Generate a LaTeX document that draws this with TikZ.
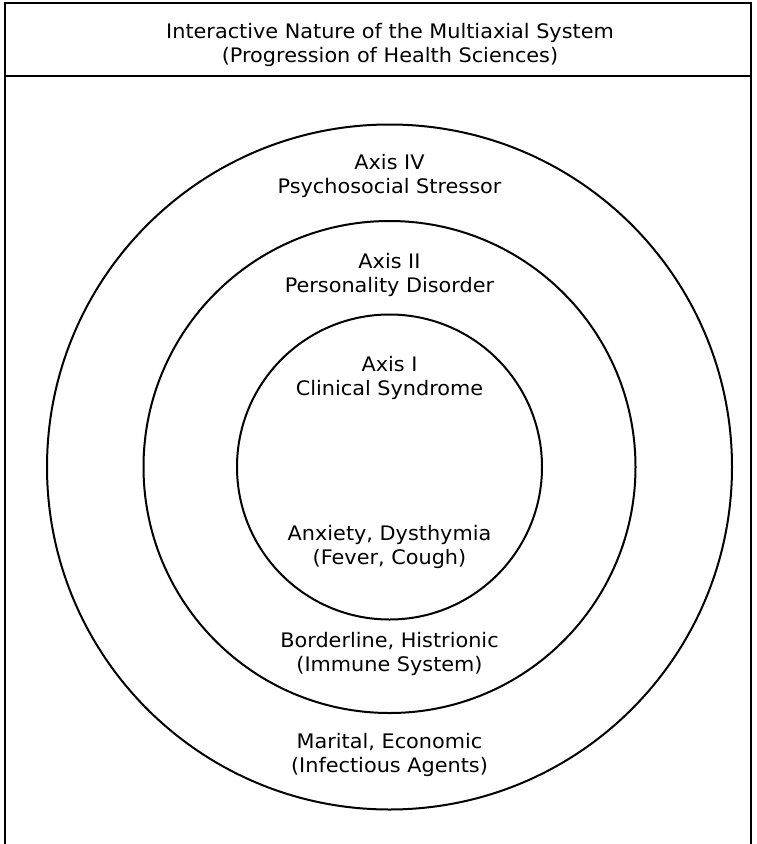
\documentclass[tikz,border=0pt]{standalone}
\usepackage{fontspec}
\setmainfont{DejaVu Sans}[FakeStretch=1.04]
\usepackage{tikz}
\tikzset{ring/.style={circle, draw, line width=2pt, inner sep=0pt},
  label text/.style={align=center, font=\fontsize{20}{24.5}\selectfont, inner sep=0pt}}

\begin{document}
\begin{tikzpicture}[x=1pt, y=-1pt]
\useasboundingbox (0,0) rectangle (756,844);

% frame and header
\draw[line width=2pt] (5,850) -- (5,3) -- (751,3) -- (751,850);
\draw[line width=2pt] (5,76) -- (751,76);
\node[label text] (title) at (390,45) {Interactive Nature of the Multiaxial System\\(Progression of Health Sciences)};

\coordinate (c) at (389.5,467);

\node[ring, minimum size=685pt] (outer) at (c) {};
\node[ring, minimum size=492pt] (middle) at (c) {};
\node[ring, minimum size=305pt] (inner) at (c) {};

\begin{scope}[every node/.style={label text}]
\node (axisiv) at (389.5,176) {Axis IV\\Psychosocial Stressor};
\node (axisii) at (389.5,275) {Axis II\\Personality Disorder};
\node (axisi) at (389.5,378) {Axis I\\Clinical Syndrome};
\node (anx) at (389.5,547) {Anxiety, Dysthymia\\(Fever, Cough)};
\node (border) at (389.5,654) {Borderline, Histrionic\\(Immune System)};
\node (marital) at (389.5,755) {Marital, Economic\\(Infectious Agents)};
\end{scope}
\end{tikzpicture}
\end{document}
